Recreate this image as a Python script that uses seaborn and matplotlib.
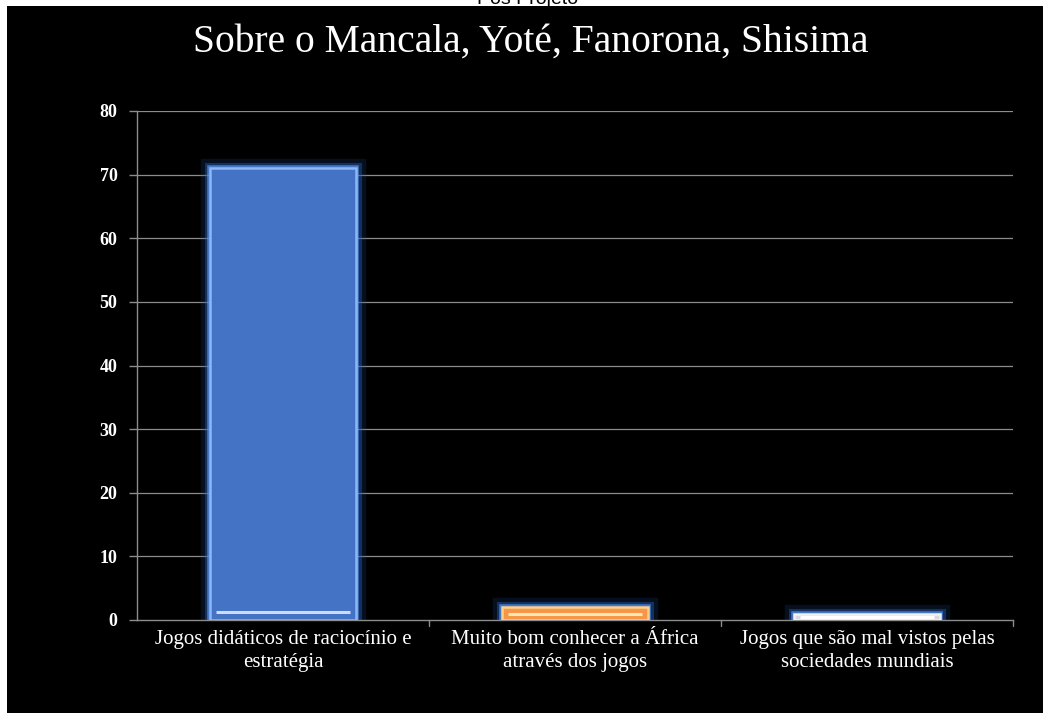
import matplotlib
matplotlib.use("Agg")
import matplotlib.pyplot as plt
import matplotlib.patheffects as pe
from matplotlib.patches import Rectangle
import seaborn as sns
import pandas as pd

# Survey answers and counts
categories = [
    "Jogos didáticos de raciocínio e\nestratégia",
    "Muito bom conhecer a África\natravés dos jogos",
    "Jogos que são mal vistos pelas\nsociedades mundiais",
]
counts = [71, 2, 1]
bar_colors = ["#4472C4", "#F79646", "#D9D9D9"]
edge_colors = ["#8DB8F5", "#FFD08A", "#F2F2F2"]
highlight_colors = ["#C9DDFB", "#FFE6B8", "#FFFFFF"]
y_ticks = [0, 10, 20, 30, 40, 50, 60, 70, 80]

title = "Sobre o Mancala, Yoté, Fanorona, Shisima"
header = "Pós Projeto"

sns.set_theme(style="dark")
plt.rcParams["font.family"] = ["Liberation Serif", "DejaVu Serif"]

fig = plt.figure(figsize=(10.43, 7.13), dpi=100, facecolor="white")

# black slide background
fig.patches.append(Rectangle((7 / 1043, 0), 1 - 7 / 1043, 1 - 6 / 713,
                             transform=fig.transFigure, facecolor="black",
                             edgecolor="none", zorder=-10))

ax = fig.add_axes([137 / 1043, 1 - 620 / 713, (1013 - 137) / 1043, (620 - 111) / 713])
ax.set_facecolor("none")

df = pd.DataFrame({"cat": categories, "n": counts})
sns.barplot(data=df, x="cat", y="n", hue="cat", palette=bar_colors,
            saturation=1, width=0.5, legend=False, ax=ax, zorder=3)

for patch, ec, hc in zip(ax.patches, edge_colors, highlight_colors):
    patch.set_edgecolor(ec)
    patch.set_linewidth(1.8)
    patch.set_path_effects([
        pe.Stroke(linewidth=14, foreground="#1E4F9A", alpha=0.2),
        pe.Stroke(linewidth=8, foreground="#2A63C0", alpha=0.4),
        pe.Stroke(linewidth=4, foreground="#5A96F0", alpha=0.7),
        pe.Normal(),
    ])
    x0 = patch.get_x()
    w = patch.get_width()
    h = patch.get_height()
    yb = min(1.2, h / 2)
    ax.plot([x0 + w * 0.04, x0 + w * 0.96], [yb, yb], color=hc, lw=2.2,
            solid_capstyle="butt", zorder=4)

ax.set_ylim(0, 80)
ax.set_xlim(-0.5, 2.5)
ax.set_yticks(y_ticks)
ax.set_yticklabels([str(v) for v in y_ticks], fontsize=13, color="white",
                   fontweight="bold")
ax.set_xlabel("")
ax.set_ylabel("")
ax.tick_params(axis="x", length=0, pad=7, labelsize=15, labelcolor="white")
ax.tick_params(axis="y", length=6, width=1, color="#8C8C8C", pad=8, left=True)
for lbl in ax.get_xticklabels():
    lbl.set_linespacing(1.3)

ax.grid(False)
for v in y_ticks[1:]:
    ax.axhline(v, color="#8C8C8C", lw=0.9, zorder=1)

# category separators on the category axis
for b in [0.5, 1.5, 2.5]:
    ax.plot([b, b], [0, -0.012], transform=ax.get_xaxis_transform(),
            color="#8C8C8C", lw=1, clip_on=False)

for side in ["top", "right"]:
    ax.spines[side].set_visible(False)
for side in ["left", "bottom"]:
    ax.spines[side].set_visible(True)
    ax.spines[side].set_color("#8C8C8C")
    ax.spines[side].set_linewidth(1)

fig.text(531 / 1043, 1 - 42 / 713, title, ha="center", va="center",
         fontsize=28.5, color="white")
fig.text(528 / 1043, 1 - 4 / 713, header, ha="center", va="baseline",
         fontsize=14, color="black", family=["Liberation Sans", "DejaVu Sans"])

fig.savefig("out.png", dpi=100, facecolor="white")
